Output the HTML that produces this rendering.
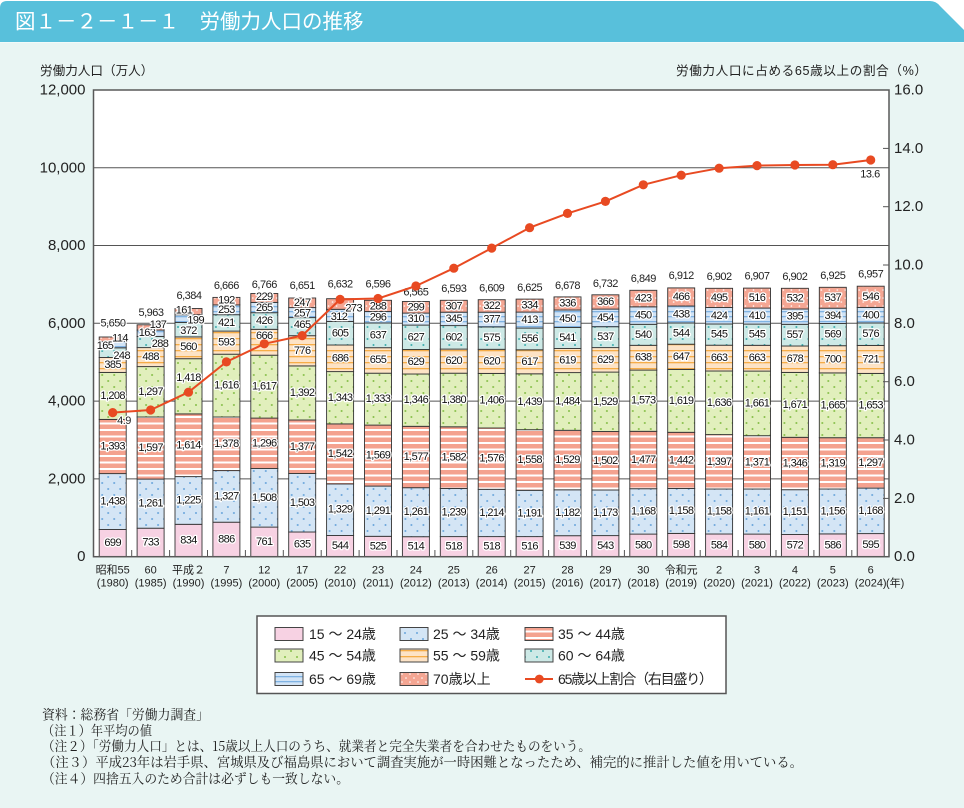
<!DOCTYPE html>
<html lang="ja">
<head>
<meta charset="utf-8">
<style>
html,body{margin:0;padding:0;background:#fff;}
body{width:964px;height:808px;overflow:hidden;}
svg{display:block;}
text{font-family:"Liberation Sans","Noto Sans CJK JP",sans-serif;}
.v{font-size:11px;letter-spacing:-0.6px;text-anchor:middle;dominant-baseline:central;fill:#111;stroke:#fff;stroke-width:2.6px;paint-order:stroke;stroke-linejoin:round;}
.t{font-size:11px;letter-spacing:-0.5px;text-anchor:middle;dominant-baseline:central;fill:#222;stroke:#fff;stroke-width:2.4px;paint-order:stroke;stroke-linejoin:round;}
.a1{fill:#f7d2e3}.a2{fill:url(#p2)}.a3{fill:url(#p3)}.a4{fill:url(#p4)}
.a5{fill:url(#p5)}.a6{fill:url(#p6)}.a7{fill:url(#p7)}.a8{fill:url(#p8)}
.yl{font-size:15px;text-anchor:end;dominant-baseline:central;fill:#222;}
.yr{font-size:15px;text-anchor:start;dominant-baseline:central;fill:#222;}
.x1,.x2{font-size:11px;text-anchor:middle;dominant-baseline:central;fill:#222;}
.lg{font-size:14px;dominant-baseline:central;fill:#222;}
.nt{font-family:"Noto Serif CJK SC",serif;font-size:13.5px;fill:#222;dominant-baseline:central;}
</style>
</head>
<body>
<svg width="964" height="808" viewBox="0 0 964 808" xmlns="http://www.w3.org/2000/svg">
<defs>
<pattern id="p2" width="12" height="12" patternUnits="userSpaceOnUse"><rect width="12" height="12" fill="#d4e5f5"/><circle cx="3" cy="3" r="1" fill="#6aa6dc"/><circle cx="9" cy="9" r="1" fill="#6aa6dc"/></pattern>
<pattern id="p3" width="10" height="6.5" patternUnits="userSpaceOnUse"><rect width="10" height="6.5" fill="#f4a28f"/><rect y="0" width="10" height="2" fill="#fff"/></pattern>
<pattern id="p4" width="12" height="12" patternUnits="userSpaceOnUse"><rect width="12" height="12" fill="#e1efbc"/><circle cx="3" cy="3" r="1" fill="#86bf48"/><circle cx="9" cy="9" r="1" fill="#86bf48"/></pattern>
<pattern id="p5" width="10" height="6" patternUnits="userSpaceOnUse"><rect width="10" height="6" fill="#fde3c6"/><rect y="2" width="10" height="1.3" fill="#f6ad47"/></pattern>
<pattern id="p6" width="12" height="12" patternUnits="userSpaceOnUse"><rect width="12" height="12" fill="#cde9e6"/><circle cx="3" cy="3" r="1" fill="#3aacac"/><circle cx="9" cy="9" r="1" fill="#3aacac"/></pattern>
<pattern id="p7" width="10" height="5" patternUnits="userSpaceOnUse"><rect width="10" height="5" fill="#d2e4f6"/><rect y="1" width="10" height="1.3" fill="#80b3e3"/></pattern>
<pattern id="p8" width="8" height="8" patternUnits="userSpaceOnUse"><rect width="8" height="8" fill="#f4a693"/><circle cx="2" cy="2" r="0.8" fill="#fff"/><circle cx="6" cy="6" r="0.8" fill="#fff"/></pattern>
</defs>

<!-- background -->
<rect x="0" y="0" width="964" height="808" fill="#fff"/>
<rect x="0" y="42" width="964" height="766" fill="#e9f5f3"/>
<path d="M0 43 V8 Q0 1 7 1 H930 Q936 1 940 6 L964 30 V43 Z" fill="#58c0db"/>
<line x1="0" y1="42.5" x2="964" y2="42.5" stroke="#f2faf9" stroke-width="1"/>
<text x="15" y="28.5" font-size="20.5" fill="#fff" style="font-family:'Noto Sans CJK JP',sans-serif;">図１－２－１－１　労働力人口の推移</text>

<!-- axis titles -->
<text x="40" y="71" font-size="12.6" fill="#222" dominant-baseline="central">労働力人口（万人）</text>
<text x="927" y="71" font-size="12.6" fill="#222" text-anchor="end" dominant-baseline="central" textLength="251">労働力人口に占める65歳以上の割合（%）</text>

<!-- plot area -->
<rect x="93.5" y="90" width="795.5" height="466.7" fill="#fff"/>
<g stroke="#555" stroke-width="1">
<line x1="93" y1="167.8" x2="889" y2="167.8"/>
<line x1="93" y1="245.5" x2="889" y2="245.5"/>
<line x1="93" y1="323.3" x2="889" y2="323.3"/>
<line x1="93" y1="401.1" x2="889" y2="401.1"/>
<line x1="93" y1="478.9" x2="889" y2="478.9"/>
</g>

<!-- bars -->
<g stroke="#333" stroke-width="0.9">
<g transform="translate(99.2 0)">
<rect class="a1" x="0" y="529.5" width="27" height="27.2"/><rect class="a2" x="0" y="473.6" width="27" height="55.9"/><rect class="a3" x="0" y="419.4" width="27" height="54.2"/><rect class="a4" x="0" y="372.4" width="27" height="47"/><rect class="a5" x="0" y="357.5" width="27" height="14.9"/><rect class="a6" x="0" y="347.8" width="27" height="9.7"/><rect class="a7" x="0" y="341.4" width="27" height="6.4"/><rect class="a8" x="0" y="337" width="27" height="4.4"/>
</g>
<g transform="translate(137.1 0)">
<rect class="a1" x="0" y="528.2" width="27" height="28.5"/><rect class="a2" x="0" y="479.1" width="27" height="49.1"/><rect class="a3" x="0" y="417" width="27" height="62.1"/><rect class="a4" x="0" y="366.6" width="27" height="50.4"/><rect class="a5" x="0" y="347.6" width="27" height="19"/><rect class="a6" x="0" y="336.4" width="27" height="11.2"/><rect class="a7" x="0" y="330.1" width="27" height="6.3"/><rect class="a8" x="0" y="324.8" width="27" height="5.3"/>
</g>
<g transform="translate(175 0)">
<rect class="a1" x="0" y="524.3" width="27" height="32.4"/><rect class="a2" x="0" y="476.6" width="27" height="47.7"/><rect class="a3" x="0" y="413.9" width="27" height="62.7"/><rect class="a4" x="0" y="358.7" width="27" height="55.2"/><rect class="a5" x="0" y="336.9" width="27" height="21.8"/><rect class="a6" x="0" y="322.5" width="27" height="14.4"/><rect class="a7" x="0" y="314.7" width="27" height="7.8"/><rect class="a8" x="0" y="308.5" width="27" height="6.2"/>
</g>
<g transform="translate(212.9 0)">
<rect class="a1" x="0" y="522.2" width="27" height="34.5"/><rect class="a2" x="0" y="470.6" width="27" height="51.6"/><rect class="a3" x="0" y="417" width="27" height="53.6"/><rect class="a4" x="0" y="354.2" width="27" height="62.8"/><rect class="a5" x="0" y="331.1" width="27" height="23.1"/><rect class="a6" x="0" y="314.7" width="27" height="16.4"/><rect class="a7" x="0" y="304.9" width="27" height="9.8"/><rect class="a8" x="0" y="297.4" width="27" height="7.5"/>
</g>
<g transform="translate(250.8 0)">
<rect class="a1" x="0" y="527.1" width="27" height="29.6"/><rect class="a2" x="0" y="468.5" width="27" height="58.6"/><rect class="a3" x="0" y="418.1" width="27" height="50.4"/><rect class="a4" x="0" y="355.2" width="27" height="62.9"/><rect class="a5" x="0" y="329.3" width="27" height="25.9"/><rect class="a6" x="0" y="312.7" width="27" height="16.6"/><rect class="a7" x="0" y="302.4" width="27" height="10.3"/><rect class="a8" x="0" y="293.5" width="27" height="8.9"/>
</g>
<g transform="translate(288.7 0)">
<rect class="a1" x="0" y="532" width="27" height="24.7"/><rect class="a2" x="0" y="473.5" width="27" height="58.5"/><rect class="a3" x="0" y="420" width="27" height="53.5"/><rect class="a4" x="0" y="365.9" width="27" height="54.1"/><rect class="a5" x="0" y="335.7" width="27" height="30.2"/><rect class="a6" x="0" y="317.6" width="27" height="18.1"/><rect class="a7" x="0" y="307.6" width="27" height="10"/><rect class="a8" x="0" y="298" width="27" height="9.6"/>
</g>
<g transform="translate(326.6 0)">
<rect class="a1" x="0" y="535.5" width="27" height="21.2"/><rect class="a2" x="0" y="483.9" width="27" height="51.6"/><rect class="a3" x="0" y="423.9" width="27" height="60"/><rect class="a4" x="0" y="371.6" width="27" height="52.3"/><rect class="a5" x="0" y="345" width="27" height="26.6"/><rect class="a6" x="0" y="321.4" width="27" height="23.6"/><rect class="a7" x="0" y="309.3" width="27" height="12.1"/><rect class="a8" x="0" y="298.7" width="27" height="10.6"/>
</g>
<g transform="translate(364.5 0)">
<rect class="a1" x="0" y="536.3" width="27" height="20.4"/><rect class="a2" x="0" y="486.1" width="27" height="50.2"/><rect class="a3" x="0" y="425.1" width="27" height="61"/><rect class="a4" x="0" y="373.2" width="27" height="51.9"/><rect class="a5" x="0" y="347.7" width="27" height="25.5"/><rect class="a6" x="0" y="323" width="27" height="24.7"/><rect class="a7" x="0" y="311.5" width="27" height="11.5"/><rect class="a8" x="0" y="300.3" width="27" height="11.2"/>
</g>
<g transform="translate(402.4 0)">
<rect class="a1" x="0" y="536.7" width="27" height="20"/><rect class="a2" x="0" y="487.7" width="27" height="49"/><rect class="a3" x="0" y="426.3" width="27" height="61.4"/><rect class="a4" x="0" y="374" width="27" height="52.3"/><rect class="a5" x="0" y="349.5" width="27" height="24.5"/><rect class="a6" x="0" y="325.1" width="27" height="24.4"/><rect class="a7" x="0" y="313.1" width="27" height="12"/><rect class="a8" x="0" y="301.5" width="27" height="11.6"/>
</g>
<g transform="translate(440.3 0)">
<rect class="a1" x="0" y="536.6" width="27" height="20.1"/><rect class="a2" x="0" y="488.4" width="27" height="48.2"/><rect class="a3" x="0" y="426.8" width="27" height="61.6"/><rect class="a4" x="0" y="373.2" width="27" height="53.6"/><rect class="a5" x="0" y="349.1" width="27" height="24.1"/><rect class="a6" x="0" y="325.6" width="27" height="23.5"/><rect class="a7" x="0" y="312.2" width="27" height="13.4"/><rect class="a8" x="0" y="300.3" width="27" height="11.9"/>
</g>
<g transform="translate(478.2 0)">
<rect class="a1" x="0" y="536.6" width="27" height="20.1"/><rect class="a2" x="0" y="489.3" width="27" height="47.3"/><rect class="a3" x="0" y="428" width="27" height="61.3"/><rect class="a4" x="0" y="373.4" width="27" height="54.6"/><rect class="a5" x="0" y="349.3" width="27" height="24.1"/><rect class="a6" x="0" y="326.9" width="27" height="22.4"/><rect class="a7" x="0" y="312.2" width="27" height="14.7"/><rect class="a8" x="0" y="299.7" width="27" height="12.5"/>
</g>
<g transform="translate(516.1 0)">
<rect class="a1" x="0" y="536.6" width="27" height="20.1"/><rect class="a2" x="0" y="490.3" width="27" height="46.3"/><rect class="a3" x="0" y="429.7" width="27" height="60.6"/><rect class="a4" x="0" y="373.8" width="27" height="55.9"/><rect class="a5" x="0" y="349.8" width="27" height="24"/><rect class="a6" x="0" y="328.1" width="27" height="21.7"/><rect class="a7" x="0" y="312.1" width="27" height="16"/><rect class="a8" x="0" y="299.1" width="27" height="13"/>
</g>
<g transform="translate(554 0)">
<rect class="a1" x="0" y="535.7" width="27" height="21"/><rect class="a2" x="0" y="489.8" width="27" height="45.9"/><rect class="a3" x="0" y="430.3" width="27" height="59.5"/><rect class="a4" x="0" y="372.6" width="27" height="57.7"/><rect class="a5" x="0" y="348.5" width="27" height="24.1"/><rect class="a6" x="0" y="327.5" width="27" height="21"/><rect class="a7" x="0" y="310" width="27" height="17.5"/><rect class="a8" x="0" y="296.9" width="27" height="13.1"/>
</g>
<g transform="translate(591.9 0)">
<rect class="a1" x="0" y="535.6" width="27" height="21.1"/><rect class="a2" x="0" y="490" width="27" height="45.6"/><rect class="a3" x="0" y="431.5" width="27" height="58.5"/><rect class="a4" x="0" y="372.1" width="27" height="59.4"/><rect class="a5" x="0" y="347.6" width="27" height="24.5"/><rect class="a6" x="0" y="326.7" width="27" height="20.9"/><rect class="a7" x="0" y="309.1" width="27" height="17.6"/><rect class="a8" x="0" y="294.8" width="27" height="14.3"/>
</g>
<g transform="translate(629.8 0)">
<rect class="a1" x="0" y="534.1" width="27" height="22.6"/><rect class="a2" x="0" y="488.7" width="27" height="45.4"/><rect class="a3" x="0" y="431.3" width="27" height="57.4"/><rect class="a4" x="0" y="370.1" width="27" height="61.2"/><rect class="a5" x="0" y="345.3" width="27" height="24.8"/><rect class="a6" x="0" y="324.3" width="27" height="21"/><rect class="a7" x="0" y="306.8" width="27" height="17.5"/><rect class="a8" x="0" y="290.3" width="27" height="16.5"/>
</g>
<g transform="translate(667.7 0)">
<rect class="a1" x="0" y="533.4" width="27" height="23.3"/><rect class="a2" x="0" y="488.4" width="27" height="45"/><rect class="a3" x="0" y="432.3" width="27" height="56.1"/><rect class="a4" x="0" y="369.4" width="27" height="62.9"/><rect class="a5" x="0" y="344.2" width="27" height="25.2"/><rect class="a6" x="0" y="323" width="27" height="21.2"/><rect class="a7" x="0" y="306" width="27" height="17"/><rect class="a8" x="0" y="287.9" width="27" height="18.1"/>
</g>
<g transform="translate(705.6 0)">
<rect class="a1" x="0" y="534" width="27" height="22.7"/><rect class="a2" x="0" y="489" width="27" height="45"/><rect class="a3" x="0" y="434.6" width="27" height="54.4"/><rect class="a4" x="0" y="371" width="27" height="63.6"/><rect class="a5" x="0" y="345.2" width="27" height="25.8"/><rect class="a6" x="0" y="324" width="27" height="21.2"/><rect class="a7" x="0" y="307.5" width="27" height="16.5"/><rect class="a8" x="0" y="288.3" width="27" height="19.2"/>
</g>
<g transform="translate(743.5 0)">
<rect class="a1" x="0" y="534.1" width="27" height="22.6"/><rect class="a2" x="0" y="489" width="27" height="45.1"/><rect class="a3" x="0" y="435.7" width="27" height="53.3"/><rect class="a4" x="0" y="371.1" width="27" height="64.6"/><rect class="a5" x="0" y="345.3" width="27" height="25.8"/><rect class="a6" x="0" y="324.1" width="27" height="21.2"/><rect class="a7" x="0" y="308.1" width="27" height="16"/><rect class="a8" x="0" y="288.1" width="27" height="20"/>
</g>
<g transform="translate(781.4 0)">
<rect class="a1" x="0" y="534.5" width="27" height="22.2"/><rect class="a2" x="0" y="489.7" width="27" height="44.8"/><rect class="a3" x="0" y="437.3" width="27" height="52.4"/><rect class="a4" x="0" y="372.4" width="27" height="64.9"/><rect class="a5" x="0" y="346" width="27" height="26.4"/><rect class="a6" x="0" y="324.3" width="27" height="21.7"/><rect class="a7" x="0" y="309" width="27" height="15.3"/><rect class="a8" x="0" y="288.3" width="27" height="20.7"/>
</g>
<g transform="translate(819.3 0)">
<rect class="a1" x="0" y="533.9" width="27" height="22.8"/><rect class="a2" x="0" y="489" width="27" height="44.9"/><rect class="a3" x="0" y="437.7" width="27" height="51.3"/><rect class="a4" x="0" y="372.9" width="27" height="64.8"/><rect class="a5" x="0" y="345.7" width="27" height="27.2"/><rect class="a6" x="0" y="323.5" width="27" height="22.2"/><rect class="a7" x="0" y="308.2" width="27" height="15.3"/><rect class="a8" x="0" y="287.3" width="27" height="20.9"/>
</g>
<g transform="translate(857.2 0)">
<rect class="a1" x="0" y="533.6" width="27" height="23.1"/><rect class="a2" x="0" y="488.1" width="27" height="45.5"/><rect class="a3" x="0" y="437.7" width="27" height="50.4"/><rect class="a4" x="0" y="373.4" width="27" height="64.3"/><rect class="a5" x="0" y="345.4" width="27" height="28"/><rect class="a6" x="0" y="323" width="27" height="22.4"/><rect class="a7" x="0" y="307.4" width="27" height="15.6"/><rect class="a8" x="0" y="286.2" width="27" height="21.2"/>
</g>
</g>

<!-- bottom ticks & right ticks -->
<g stroke="#555" stroke-width="1">
<line x1="131.7" y1="556.7" x2="131.7" y2="550"/><line x1="169.6" y1="556.7" x2="169.6" y2="550"/><line x1="207.5" y1="556.7" x2="207.5" y2="550"/><line x1="245.4" y1="556.7" x2="245.4" y2="550"/><line x1="283.3" y1="556.7" x2="283.3" y2="550"/><line x1="321.2" y1="556.7" x2="321.2" y2="550"/><line x1="359.1" y1="556.7" x2="359.1" y2="550"/><line x1="397" y1="556.7" x2="397" y2="550"/><line x1="434.9" y1="556.7" x2="434.9" y2="550"/><line x1="472.8" y1="556.7" x2="472.8" y2="550"/><line x1="510.7" y1="556.7" x2="510.7" y2="550"/><line x1="548.6" y1="556.7" x2="548.6" y2="550"/><line x1="586.5" y1="556.7" x2="586.5" y2="550"/><line x1="624.4" y1="556.7" x2="624.4" y2="550"/><line x1="662.3" y1="556.7" x2="662.3" y2="550"/><line x1="700.2" y1="556.7" x2="700.2" y2="550"/><line x1="738.1" y1="556.7" x2="738.1" y2="550"/><line x1="776" y1="556.7" x2="776" y2="550"/><line x1="813.9" y1="556.7" x2="813.9" y2="550"/><line x1="851.8" y1="556.7" x2="851.8" y2="550"/>
<line x1="883" y1="148.4" x2="889" y2="148.4"/><line x1="883" y1="206.7" x2="889" y2="206.7"/><line x1="883" y1="265" x2="889" y2="265"/><line x1="883" y1="381.7" x2="889" y2="381.7"/><line x1="883" y1="440" x2="889" y2="440"/><line x1="883" y1="498.4" x2="889" y2="498.4"/>
</g>
<rect x="93.5" y="90" width="795.5" height="466.7" fill="none" stroke="#595959" stroke-width="1.5"/>

<!-- y labels -->
<text class="yl" x="85.5" y="90">12,000</text>
<text class="yl" x="85.5" y="167.8">10,000</text>
<text class="yl" x="85.5" y="245.5">8,000</text>
<text class="yl" x="85.5" y="323.3">6,000</text>
<text class="yl" x="85.5" y="401.1">4,000</text>
<text class="yl" x="85.5" y="478.9">2,000</text>
<text class="yl" x="85.5" y="556.7">0</text>
<text class="yr" x="894" y="90">16.0</text>
<text class="yr" x="894" y="148.4">14.0</text>
<text class="yr" x="894" y="206.7">12.0</text>
<text class="yr" x="894" y="265">10.0</text>
<text class="yr" x="894" y="323.4">8.0</text>
<text class="yr" x="894" y="381.7">6.0</text>
<text class="yr" x="894" y="440">4.0</text>
<text class="yr" x="894" y="498.4">2.0</text>
<text class="yr" x="894" y="556.7">0.0</text>

<!-- x labels -->
<g>
<text class="x1" x="112.7" y="570.5">昭和55</text><text class="x2" x="112.7" y="583.5">(1980)</text>
<text class="x1" x="150.6" y="570.5">60</text><text class="x2" x="150.6" y="583.5">(1985)</text>
<text class="x1" x="188.5" y="570.5">平成２</text><text class="x2" x="188.5" y="583.5">(1990)</text>
<text class="x1" x="226.4" y="570.5">7</text><text class="x2" x="226.4" y="583.5">(1995)</text>
<text class="x1" x="264.3" y="570.5">12</text><text class="x2" x="264.3" y="583.5">(2000)</text>
<text class="x1" x="302.2" y="570.5">17</text><text class="x2" x="302.2" y="583.5">(2005)</text>
<text class="x1" x="340.1" y="570.5">22</text><text class="x2" x="340.1" y="583.5">(2010)</text>
<text class="x1" x="378" y="570.5">23</text><text class="x2" x="378" y="583.5">(2011)</text>
<text class="x1" x="415.9" y="570.5">24</text><text class="x2" x="415.9" y="583.5">(2012)</text>
<text class="x1" x="453.8" y="570.5">25</text><text class="x2" x="453.8" y="583.5">(2013)</text>
<text class="x1" x="491.7" y="570.5">26</text><text class="x2" x="491.7" y="583.5">(2014)</text>
<text class="x1" x="529.6" y="570.5">27</text><text class="x2" x="529.6" y="583.5">(2015)</text>
<text class="x1" x="567.5" y="570.5">28</text><text class="x2" x="567.5" y="583.5">(2016)</text>
<text class="x1" x="605.4" y="570.5">29</text><text class="x2" x="605.4" y="583.5">(2017)</text>
<text class="x1" x="643.3" y="570.5">30</text><text class="x2" x="643.3" y="583.5">(2018)</text>
<text class="x1" x="681.2" y="570.5">令和元</text><text class="x2" x="681.2" y="583.5">(2019)</text>
<text class="x1" x="719.1" y="570.5">2</text><text class="x2" x="719.1" y="583.5">(2020)</text>
<text class="x1" x="757" y="570.5">3</text><text class="x2" x="757" y="583.5">(2021)</text>
<text class="x1" x="794.9" y="570.5">4</text><text class="x2" x="794.9" y="583.5">(2022)</text>
<text class="x1" x="832.8" y="570.5">5</text><text class="x2" x="832.8" y="583.5">(2023)</text>
<text class="x1" x="870.7" y="570.5">6</text><text class="x2" x="870.7" y="583.5">(2024)</text>
<text x="886" y="583.5" font-size="11" fill="#222" dominant-baseline="central">(年)</text>
</g>

<!-- value labels -->
<g>
<text class="v" x="112.7" y="543.1">699</text><text class="v" x="112.7" y="501.6">1,438</text><text class="v" x="112.7" y="446.5">1,393</text><text class="v" x="112.7" y="395.9">1,208</text><text class="v" x="112.7" y="365">385</text><text class="v" x="121.7" y="356">248</text><text class="v" x="105" y="346">165</text><text class="v" x="120" y="338.5">114</text><text class="t" x="113" y="323.3">5,650</text>
<text class="v" x="150.6" y="542.5">733</text><text class="v" x="150.6" y="503.7">1,261</text><text class="v" x="150.6" y="448.1">1,597</text><text class="v" x="150.6" y="391.8">1,297</text><text class="v" x="150.6" y="357.1">488</text><text class="v" x="160" y="344">288</text><text class="v" x="147" y="333">163</text><text class="v" x="158" y="325">137</text><text class="t" x="151" y="313">5,963</text>
<text class="v" x="188.5" y="540.5">834</text><text class="v" x="188.5" y="500.5">1,225</text><text class="v" x="188.5" y="445.3">1,614</text><text class="v" x="188.5" y="378">1,418</text><text class="v" x="188.5" y="347">560</text><text class="v" x="188.5" y="331">372</text><text class="v" x="195.7" y="320.7">199</text><text class="v" x="184" y="310.7">161</text><text class="t" x="189" y="296">6,384</text>
<text class="v" x="226.4" y="539.5">886</text><text class="v" x="226.4" y="496.4">1,327</text><text class="v" x="226.4" y="443.8">1,378</text><text class="v" x="226.4" y="385.6">1,616</text><text class="v" x="226.4" y="342.7">593</text><text class="v" x="226.4" y="322.9">421</text><text class="v" x="226.4" y="309.8">253</text><text class="v" x="226.4" y="300.5">192</text><text class="t" x="226.4" y="286">6,666</text>
<text class="v" x="264.3" y="541.9">761</text><text class="v" x="264.3" y="497.8">1,508</text><text class="v" x="264.3" y="443.3">1,296</text><text class="v" x="264.3" y="386.6">1,617</text><text class="v" x="264.3" y="336">666</text><text class="v" x="264.3" y="321">426</text><text class="v" x="264.3" y="308">265</text><text class="v" x="264.3" y="297">229</text><text class="t" x="264.3" y="285">6,766</text>
<text class="v" x="302.2" y="544.4">635</text><text class="v" x="302.2" y="502.8">1,503</text><text class="v" x="302.2" y="446.8">1,377</text><text class="v" x="302.2" y="393">1,392</text><text class="v" x="302.2" y="350.8">776</text><text class="v" x="302.2" y="325">465</text><text class="v" x="302.2" y="313.5">257</text><text class="v" x="302.2" y="303">247</text><text class="t" x="302.2" y="286">6,651</text>
<text class="v" x="340.1" y="546.1">544</text><text class="v" x="340.1" y="509.7">1,329</text><text class="v" x="340.1" y="453.9">1,542</text><text class="v" x="340.1" y="397.8">1,343</text><text class="v" x="340.1" y="358.3">686</text><text class="v" x="340.1" y="333.6">605</text><text class="v" x="339" y="317">312</text><text class="v" x="353.7" y="308.3">273</text><text class="t" x="340.1" y="284.3">6,632</text>
<text class="v" x="378" y="546.5">525</text><text class="v" x="378" y="511.2">1,291</text><text class="v" x="378" y="455.6">1,569</text><text class="v" x="378" y="399.2">1,333</text><text class="v" x="378" y="360">655</text><text class="v" x="378" y="335.7">637</text><text class="v" x="378" y="317.5">296</text><text class="v" x="378" y="306.5">288</text><text class="t" x="378" y="284.3">6,596</text>
<text class="v" x="415.9" y="546.7">514</text><text class="v" x="415.9" y="512.2">1,261</text><text class="v" x="415.9" y="457">1,577</text><text class="v" x="415.9" y="400.2">1,346</text><text class="v" x="415.9" y="361.8">629</text><text class="v" x="415.9" y="337.3">627</text><text class="v" x="415.9" y="319.1">310</text><text class="v" x="415.9" y="307.3">299</text><text class="t" x="415.9" y="292.7">6,565</text>
<text class="v" x="453.8" y="546.7">518</text><text class="v" x="453.8" y="512.5">1,239</text><text class="v" x="453.8" y="457.6">1,582</text><text class="v" x="453.8" y="400">1,380</text><text class="v" x="453.8" y="361.2">620</text><text class="v" x="453.8" y="337.4">602</text><text class="v" x="453.8" y="318.9">345</text><text class="v" x="453.8" y="306.3">307</text><text class="t" x="453.8" y="289">6,593</text>
<text class="v" x="491.7" y="546.7">518</text><text class="v" x="491.7" y="513">1,214</text><text class="v" x="491.7" y="458.7">1,576</text><text class="v" x="491.7" y="400.7">1,406</text><text class="v" x="491.7" y="361.4">620</text><text class="v" x="491.7" y="338.1">575</text><text class="v" x="491.7" y="319.6">377</text><text class="v" x="491.7" y="306">322</text><text class="t" x="491.7" y="288.7">6,609</text>
<text class="v" x="529.6" y="546.7">516</text><text class="v" x="529.6" y="513.5">1,191</text><text class="v" x="529.6" y="460">1,558</text><text class="v" x="529.6" y="401.8">1,439</text><text class="v" x="529.6" y="361.8">617</text><text class="v" x="529.6" y="338.9">556</text><text class="v" x="529.6" y="320.1">413</text><text class="v" x="529.6" y="305.6">334</text><text class="t" x="529.6" y="288">6,625</text>
<text class="v" x="567.5" y="546.2">539</text><text class="v" x="567.5" y="512.8">1,182</text><text class="v" x="567.5" y="460.1">1,529</text><text class="v" x="567.5" y="401.5">1,484</text><text class="v" x="567.5" y="360.6">619</text><text class="v" x="567.5" y="338">541</text><text class="v" x="567.5" y="318.8">450</text><text class="v" x="567.5" y="303.5">336</text><text class="t" x="567.5" y="286">6,678</text>
<text class="v" x="605.4" y="546.2">543</text><text class="v" x="605.4" y="512.8">1,173</text><text class="v" x="605.4" y="460.8">1,502</text><text class="v" x="605.4" y="401.8">1,529</text><text class="v" x="605.4" y="359.9">629</text><text class="v" x="605.4" y="337.2">537</text><text class="v" x="605.4" y="317.9">454</text><text class="v" x="605.4" y="302">366</text><text class="t" x="605.4" y="284">6,732</text>
<text class="v" x="643.3" y="545.4">580</text><text class="v" x="643.3" y="511.4">1,168</text><text class="v" x="643.3" y="460">1,477</text><text class="v" x="643.3" y="400.7">1,573</text><text class="v" x="643.3" y="357.7">638</text><text class="v" x="643.3" y="334.8">540</text><text class="v" x="643.3" y="315.6">450</text><text class="v" x="643.3" y="298.6">423</text><text class="t" x="643.3" y="279">6,849</text>
<text class="v" x="681.2" y="545.1">598</text><text class="v" x="681.2" y="510.9">1,158</text><text class="v" x="681.2" y="460.4">1,442</text><text class="v" x="681.2" y="400.9">1,619</text><text class="v" x="681.2" y="356.8">647</text><text class="v" x="681.2" y="333.6">544</text><text class="v" x="681.2" y="314.5">438</text><text class="v" x="681.2" y="297">466</text><text class="t" x="681.2" y="276">6,912</text>
<text class="v" x="719.1" y="545.4">584</text><text class="v" x="719.1" y="511.5">1,158</text><text class="v" x="719.1" y="461.8">1,397</text><text class="v" x="719.1" y="402.8">1,636</text><text class="v" x="719.1" y="358.1">663</text><text class="v" x="719.1" y="334.6">545</text><text class="v" x="719.1" y="315.8">424</text><text class="v" x="719.1" y="297.9">495</text><text class="t" x="719.1" y="277">6,902</text>
<text class="v" x="757" y="545.4">580</text><text class="v" x="757" y="511.6">1,161</text><text class="v" x="757" y="462.4">1,371</text><text class="v" x="757" y="403.4">1,661</text><text class="v" x="757" y="358.2">663</text><text class="v" x="757" y="334.7">545</text><text class="v" x="757" y="316.1">410</text><text class="v" x="757" y="298.1">516</text><text class="t" x="757" y="276.5">6,907</text>
<text class="v" x="794.9" y="545.6">572</text><text class="v" x="794.9" y="512.1">1,151</text><text class="v" x="794.9" y="463.5">1,346</text><text class="v" x="794.9" y="404.9">1,671</text><text class="v" x="794.9" y="359.2">678</text><text class="v" x="794.9" y="335.2">557</text><text class="v" x="794.9" y="316.7">395</text><text class="v" x="794.9" y="298.7">532</text><text class="t" x="794.9" y="277">6,902</text>
<text class="v" x="832.8" y="545.3">586</text><text class="v" x="832.8" y="511.5">1,156</text><text class="v" x="832.8" y="463.4">1,319</text><text class="v" x="832.8" y="405.3">1,665</text><text class="v" x="832.8" y="359.3">700</text><text class="v" x="832.8" y="334.6">569</text><text class="v" x="832.8" y="315.9">394</text><text class="v" x="832.8" y="297.8">537</text><text class="t" x="832.8" y="276">6,925</text>
<text class="v" x="870.7" y="545.2">595</text><text class="v" x="870.7" y="510.9">1,168</text><text class="v" x="870.7" y="462.9">1,297</text><text class="v" x="870.7" y="405.6">1,653</text><text class="v" x="870.7" y="359.4">721</text><text class="v" x="870.7" y="334.2">576</text><text class="v" x="870.7" y="315.4">400</text><text class="v" x="870.7" y="296.8">546</text><text class="t" x="870.7" y="274.5">6,957</text>
</g>

<!-- ratio line -->
<polyline fill="none" stroke="#e84a22" stroke-width="2" stroke-linejoin="round" points="112.7,412.6 150.6,410 188.5,392.2 226.4,361.9 264.3,343.8 302.2,335.6 340.1,299.4 378,298.5 415.9,286 453.8,268.2 491.7,248.1 529.6,227.7 567.5,213.4 605.4,201.4 643.3,184.8 681.2,175.2 719.1,168.2 757,165.6 794.9,165 832.8,164.7 870.7,160"/>
<g fill="#e84a22">
<circle cx="112.7" cy="412.6" r="4.6"/><circle cx="150.6" cy="410" r="4.6"/><circle cx="188.5" cy="392.2" r="4.6"/><circle cx="226.4" cy="361.9" r="4.6"/><circle cx="264.3" cy="343.8" r="4.6"/><circle cx="302.2" cy="335.6" r="4.6"/><circle cx="340.1" cy="299.4" r="4.6"/><circle cx="378" cy="298.5" r="4.6"/><circle cx="415.9" cy="286" r="4.6"/><circle cx="453.8" cy="268.2" r="4.6"/><circle cx="491.7" cy="248.1" r="4.6"/><circle cx="529.6" cy="227.7" r="4.6"/><circle cx="567.5" cy="213.4" r="4.6"/><circle cx="605.4" cy="201.4" r="4.6"/><circle cx="643.3" cy="184.8" r="4.6"/><circle cx="681.2" cy="175.2" r="4.6"/><circle cx="719.1" cy="168.2" r="4.6"/><circle cx="757" cy="165.6" r="4.6"/><circle cx="794.9" cy="165" r="4.6"/><circle cx="832.8" cy="164.7" r="4.6"/><circle cx="870.7" cy="160" r="4.6"/>
</g>
<text class="t" x="124" y="421">4.9</text>
<text class="t" x="870" y="174.3">13.6</text>

<!-- legend -->
<rect x="257" y="616" width="469" height="77.5" fill="#fff" stroke="#555" stroke-width="1.5"/>
<g stroke="#444" stroke-width="1">
<rect x="275" y="627.5" width="28" height="13" fill="#f7d2e3"/>
<rect x="400" y="627.5" width="28" height="13" fill="url(#p2)"/>
<rect x="525" y="627.5" width="28" height="13" fill="url(#p3)"/>
<rect x="275" y="649" width="28" height="13" fill="url(#p4)"/>
<rect x="400" y="649" width="28" height="13" fill="url(#p5)"/>
<rect x="525" y="649" width="28" height="13" fill="url(#p6)"/>
<rect x="275" y="672.5" width="28" height="13" fill="url(#p7)"/>
<rect x="400" y="672.5" width="28" height="13" fill="url(#p8)"/>
</g>
<line x1="525" y1="679" x2="553" y2="679" stroke="#e84a22" stroke-width="2"/>
<circle cx="539.3" cy="679" r="4.4" fill="#e84a22"/>
<text class="lg" x="309" y="634">15 ～ 24歳</text>
<text class="lg" x="433" y="634">25 ～ 34歳</text>
<text class="lg" x="558" y="634">35 ～ 44歳</text>
<text class="lg" x="309" y="655.5">45 ～ 54歳</text>
<text class="lg" x="433" y="655.5">55 ～ 59歳</text>
<text class="lg" x="558" y="655.5">60 ～ 64歳</text>
<text class="lg" x="309" y="679">65 ～ 69歳</text>
<text class="lg" x="433" y="679">70歳以上</text>
<text class="lg" x="558" y="679" textLength="155">65歳以上割合（右目盛り）</text>

<!-- notes -->
<text class="nt" x="42" y="713.3" textLength="167" lengthAdjust="spacingAndGlyphs">資料：総務省「労働力調査」</text>
<text class="nt" x="42" y="729.3" textLength="110" lengthAdjust="spacingAndGlyphs">（注１）年平均の値</text>
<text class="nt" x="42" y="745.2" textLength="549" lengthAdjust="spacingAndGlyphs">（注２）「労働力人口」とは、15歳以上人口のうち、就業者と完全失業者を合わせたものをいう。</text>
<text class="nt" x="42" y="761.2" textLength="761" lengthAdjust="spacingAndGlyphs">（注３）平成23年は岩手県、宮城県及び福島県において調査実施が一時困難となったため、補完的に推計した値を用いている。</text>
<text class="nt" x="42" y="777.3" textLength="307" lengthAdjust="spacingAndGlyphs">（注４）四捨五入のため合計は必ずしも一致しない。</text>
</svg>
</body>
</html>
